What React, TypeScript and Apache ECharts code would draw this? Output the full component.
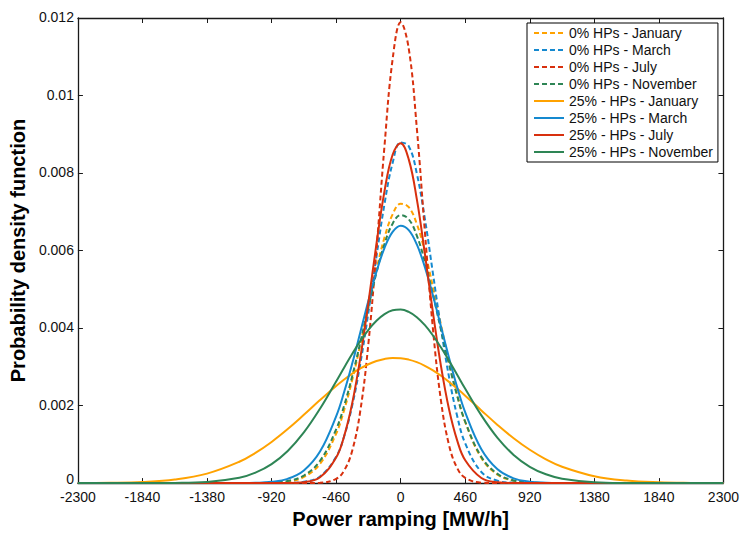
import React, { useEffect, useRef } from "react";
import * as echarts from "echarts";

// x positions (MW/h) at which the curves were read
const xValues = [
  -2300, -2070, -1840, -1610, -1380, -1150, -1035, -920, -805, -690, -575, -460,
  -402.5, -345, -287.5, -230, -172.5, -115, -57.5, 0, 57.5, 115, 172.5, 230,
  287.5, 345, 402.5, 460, 575, 690, 805, 920, 1035, 1150, 1380, 1610, 1840, 2070, 2300,
];

const xTicks = [-2300, -1840, -1380, -920, -460, 0, 460, 920, 1380, 1840, 2300];
const yTicks = [0, 0.002, 0.004, 0.006, 0.008, 0.01, 0.012];

const seriesNames = [
  "0% HPs - January",
  "0% HPs - March",
  "0% HPs - July",
  "0% HPs - November",
  "25% - HPs - January",
  "25% - HPs - March",
  "25% - HPs - July",
  "25% - HPs - November",
];

const hp0January = [
  0, 0, 0, 0, 0, 0, 0.0000015, 0.0000087, 0.000041, 0.000158, 0.000497, 0.001274,
  0.00189, 0.002665, 0.003572, 0.004551, 0.00551, 0.00634, 0.006934, 0.007208, 0.00712, 0.006686, 0.005966, 0.00506,
  0.004079, 0.003125, 0.002276, 0.001575, 0.000648, 0.000217, 0.0000595, 0.0000133, 0.0000024, 0, 0, 0, 0, 0, 0,
];
const hp0March = [
  0, 0, 0, 0, 0, 0, 0, 0, 0.0000045, 0.0000324, 0.000172, 0.000681,
  0.001212, 0.002006, 0.003084, 0.004405, 0.005847, 0.00721, 0.00826, 0.008791, 0.008693, 0.007987, 0.006817, 0.005407,
  0.003983, 0.002727, 0.001734, 0.001024, 0.000287, 0.0000599, 0.0000093, 0.0000011, 0, 0, 0, 0, 0, 0, 0,
];
const hp0July = [
  0, 0, 0, 0, 0, 0, 0, 0, 0, 0, 0.0000082, 0.000111,
  0.000327, 0.00084, 0.001869, 0.003602, 0.006018, 0.008714, 0.010935, 0.01189, 0.011211, 0.009158, 0.006484, 0.003978,
  0.002116, 0.000975, 0.000389, 0.000135, 0.0000105, 0, 0, 0, 0, 0, 0, 0, 0, 0, 0,
];
const hp0November = [
  0, 0, 0, 0, 0, 0, 0.0000024, 0.0000127, 0.0000548, 0.000195, 0.000572, 0.001385,
  0.002004, 0.002763, 0.003632, 0.004549, 0.00543, 0.006176, 0.006694, 0.006915, 0.006807, 0.006386, 0.005709, 0.004864,
  0.003949, 0.003056, 0.002253, 0.001583, 0.000677, 0.000238, 0.0000693, 0.0000166, 0.0000033, 0, 0, 0, 0, 0, 0,
];
const hp25January = [
  0.0000021, 0.0000087, 0.0000308, 0.0000937, 0.000245, 0.00055, 0.000779, 0.001062, 0.001394, 0.001761, 0.002141, 0.002507,
  0.002674, 0.002826, 0.002958, 0.003067, 0.00315, 0.003204, 0.003229, 0.003223, 0.003186, 0.00312, 0.003027, 0.002909,
  0.002769, 0.00261, 0.002438, 0.002256, 0.001876, 0.001502, 0.001158, 0.00086, 0.000614, 0.000423, 0.000178, 0.0000647, 0.0000202, 0.0000054, 0.0000012,
];
const hp25March = [
  0, 0, 0, 0, 0, 0.0000016, 0.0000078, 0.0000318, 0.00011, 0.000326, 0.000813, 0.001722,
  0.002355, 0.00309, 0.003892, 0.004704, 0.005454, 0.006069, 0.00648, 0.00664, 0.006527, 0.006157, 0.005573, 0.004841,
  0.004034, 0.003227, 0.002476, 0.001823, 0.000873, 0.000355, 0.000122, 0.0000357, 0.0000088, 0.0000019, 0, 0, 0, 0, 0,
];
const hp25July = [
  0, 0, 0, 0, 0, 0, 0, 0, 0.0000029, 0.0000249, 0.000151, 0.000659,
  0.001217, 0.002067, 0.003235, 0.004658, 0.006176, 0.007539, 0.008473, 0.008767, 0.008352, 0.007326, 0.005915, 0.004397,
  0.00301, 0.001897, 0.001101, 0.000588, 0.000131, 0.000021, 0.0000024, 0, 0, 0, 0, 0, 0, 0, 0,
];
const hp25November = [
  0, 0, 0.0000006, 0.0000046, 0.000029, 0.0001375, 0.000269, 0.000489, 0.000828, 0.001307, 0.001919, 0.002623,
  0.002985, 0.003337, 0.003665, 0.003954, 0.004189, 0.00436, 0.004458, 0.004477, 0.004417, 0.00428, 0.004074, 0.003809,
  0.003498, 0.003156, 0.002796, 0.002434, 0.001748, 0.001168, 0.000727, 0.000421, 0.000227, 0.000114, 0.0000232, 0.0000035, 0.0000004, 0, 0,
];

const seriesValues = [
  hp0January, hp0March, hp0July, hp0November,
  hp25January, hp25March, hp25July, hp25November,
];

const ORANGE = "#FFA200";
const BLUE = "#1589CF";
const RED = "#D8300E";
const GREEN = "#2E8555";
const seriesColors = [ORANGE, BLUE, RED, GREEN, ORANGE, BLUE, RED, GREEN];
const seriesDashed = [true, true, true, true, false, false, false, false];

const FONT = "'Liberation Sans', Arial, Helvetica, sans-serif";
const AXIS_COLOR = "#1a1a1a";

export default function App() {
  const ref = useRef<HTMLDivElement>(null);

  useEffect(() => {
    if (!ref.current) return;
    const chart = echarts.init(ref.current, null, { renderer: "svg" });

    const series = seriesNames.map((name, si) => ({
      name,
      type: "line",
      data: xValues.map((x, i) => [x, seriesValues[si][i]]),
      smooth: 0.4,
      symbol: "none",
      silent: true,
      lineStyle: {
        color: seriesColors[si],
        width: 2,
        type: seriesDashed[si] ? [5, 3] : "solid",
      },
      itemStyle: { color: seriesColors[si] },
      emphasis: { disabled: true },
    }));

    const tickFmt = (v: number) => String(parseFloat(v.toFixed(4)));
    const yTickFmt = (v: number) => (v === 0 ? "{z|0}" : tickFmt(v));

    const axisLine = { show: true, onZero: false, lineStyle: { color: AXIS_COLOR, width: 1.3 } };
    const axisTick = { show: true, inside: true, length: 5, lineStyle: { color: AXIS_COLOR, width: 1 } };

    chart.setOption({
      animation: false,
      backgroundColor: "#ffffff",
      textStyle: { fontFamily: FONT },
      grid: { left: 76, right: 17, top: 18, bottom: 44.5, containLabel: false },
      legend: {
        orient: "vertical",
        left: 527,
        top: 23,
        padding: [3, 5, 3, 6],
        itemGap: 3,
        itemWidth: 30,
        itemHeight: 14,
        borderColor: "#000",
        borderWidth: 1,
        borderRadius: 0,
        backgroundColor: "#ffffff",
        selectedMode: false,
        itemStyle: { opacity: 0, borderWidth: 0 },
        textStyle: { fontSize: 14, color: "#111", fontFamily: FONT, lineHeight: 14 },
        data: seriesNames,
      },
      xAxis: [
        {
          type: "value",
          position: "bottom",
          min: xTicks[0],
          max: xTicks[xTicks.length - 1],
          interval: 460,
          axisLine,
          axisTick,
          splitLine: { show: false },
          axisLabel: { fontSize: 14, color: "#111", margin: 8, fontFamily: FONT, lineHeight: 12, formatter: tickFmt },
          name: "Power ramping [MW/h]",
          nameLocation: "middle",
          nameGap: 21,
          nameTextStyle: { fontSize: 20, fontWeight: "bold", color: "#000", fontFamily: FONT },
        },
        {
          type: "value",
          position: "top",
          min: xTicks[0],
          max: xTicks[xTicks.length - 1],
          interval: 460,
          axisLine,
          axisTick,
          splitLine: { show: false },
          axisLabel: { show: false },
        },
      ],
      yAxis: [
        {
          type: "value",
          position: "left",
          min: yTicks[0],
          max: yTicks[yTicks.length - 1],
          interval: 0.002,
          axisLine,
          axisTick,
          splitLine: { show: false },
          axisLabel: {
            fontSize: 14, color: "#111", margin: 4, fontFamily: FONT, lineHeight: 10,
            padding: [0, 0, 2, 0], formatter: yTickFmt,
            rich: {
              z: { fontSize: 14, color: "#111", fontFamily: FONT, lineHeight: 10, padding: [0, 0, 6, 0] },
            },
          },
          name: "Probability density function",
          nameLocation: "middle",
          nameGap: 47,
          nameTextStyle: { fontSize: 20, fontWeight: "bold", color: "#000", fontFamily: FONT },
        },
        {
          type: "value",
          position: "right",
          min: yTicks[0],
          max: yTicks[yTicks.length - 1],
          interval: 0.002,
          axisLine,
          axisTick,
          splitLine: { show: false },
          axisLabel: { show: false },
        },
      ],
      series,
    });

    return () => chart.dispose();
  }, []);

  return (
    <div
      ref={ref}
      style={{ position: "fixed", left: 0, top: 0, width: 742, height: 534, background: "#fff" }}
    />
  );
}
